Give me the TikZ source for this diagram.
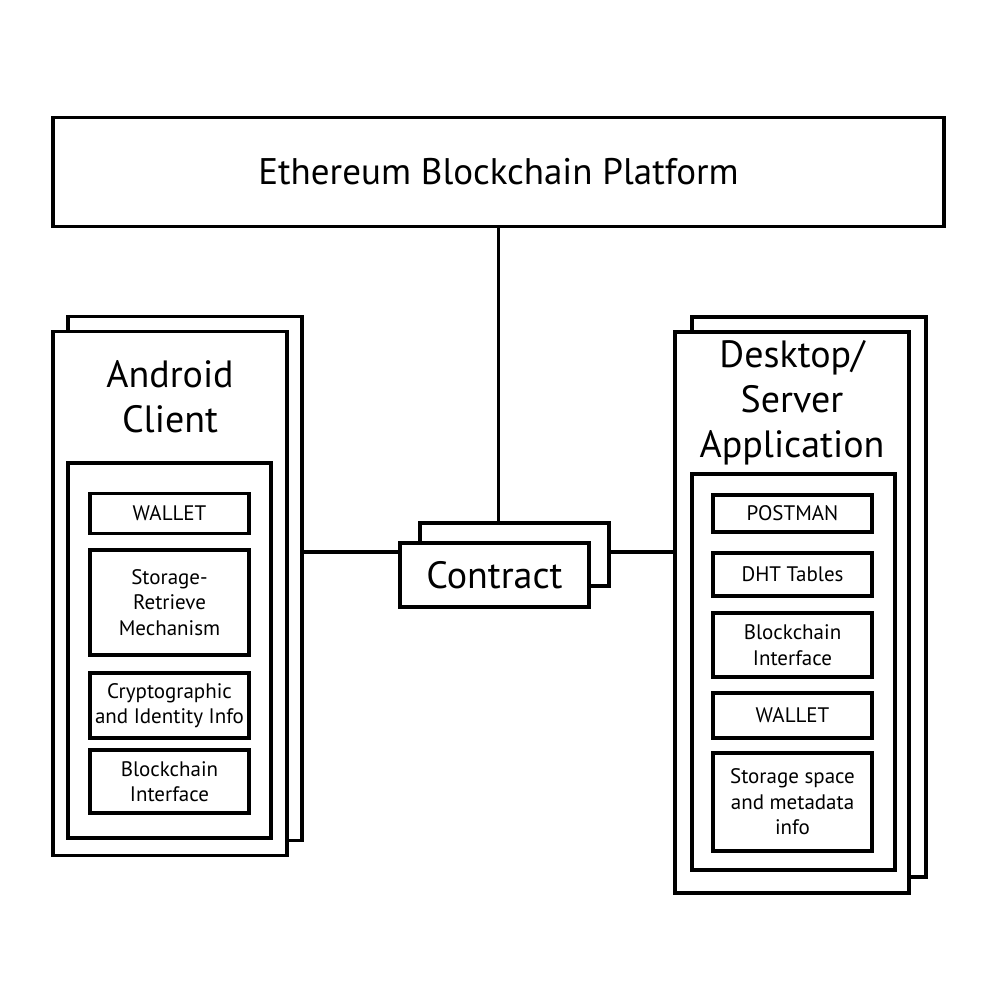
\documentclass[tikz,border=0pt]{standalone}
\usepackage{fontspec}
\setmainfont{PT Sans}
\begin{document}
\begin{tikzpicture}[x=1pt,y=-1pt,
  box/.style={draw=black,fill=white,line width=3.5pt,rectangle,inner sep=0pt,align=center},
  subbox/.style={box,minimum width=159pt,font=\fontsize{21}{25.5}\selectfont},
  conn/.style={draw=black,line width=3.5pt}]
\useasboundingbox (0,0) rectangle (1000,1000);
% top
\node[box,minimum width=891pt,minimum height=109pt,font=\fontsize{37}{42}\selectfont] (top) at (498.5,172) {Ethereum Blockchain Platform};
% left panel
\node[box,minimum width=234pt,minimum height=524pt] (lback) at (185,578.5) {};
\node[box,minimum width=234pt,minimum height=524pt] (lfront) at (170,593.5) {};
\node[align=center,inner sep=0pt,font=\fontsize{38}{45}\selectfont] (ltitle) at (170,397) {Android\\Client};
\node[box,minimum width=203pt,minimum height=375pt] (linner) at (169.5,650.5) {};
\node[subbox,minimum height=40pt] (l1) at (169.5,513.5) {WALLET};
\node[subbox,minimum height=105pt] (l2) at (169.5,602.5) {Storage-\\Retrieve\\Mechanism};
\node[subbox,minimum height=65pt] (l3) at (169.5,705.5) {Cryptographic\\and Identity Info};
\node[subbox,minimum height=63pt] (l4) at (169.5,781.5) {Blockchain\\Interface};
% right panel
\node[box,minimum width=234pt,minimum height=560pt] (rback) at (809,597) {};
\node[box,minimum width=234pt,minimum height=561pt] (rfront) at (792,612.5) {};
\node[align=center,inner sep=0pt,font=\fontsize{38}{45}\selectfont] (rtitle) at (792,403) {Desktop/\\Server\\Application};
\node[box,minimum width=203pt,minimum height=396pt] (rinner) at (793.5,672) {};
\node[subbox,minimum height=37pt] (r1) at (792.5,513.5) {POSTMAN};
\node[subbox,minimum height=43pt] (r2) at (792.5,574.5) {DHT Tables};
\node[subbox,minimum height=64pt] (r3) at (792.5,645) {Blockchain\\Interface};
\node[subbox,minimum height=45pt] (r4) at (792.5,715.5) {WALLET};
\node[subbox,minimum height=98pt] (r5) at (792.5,802) {Storage space\\and metadata\\info};
% contract
\coordinate (j) at (0,552);
\draw[conn] (top.south) -- (top.south |- 0,523);
\draw[conn] (lback.east |- j) -- (400,552);
\draw[conn] (609,552) -- (rfront.west |- j);
\node[box,minimum width=189pt,minimum height=63pt] (cback) at (514.5,554.5) {};
\node[box,minimum width=189pt,minimum height=64pt,font=\fontsize{38}{45}\selectfont] (cfront) at (494.5,575) {Contract};
\end{tikzpicture}
\end{document}
